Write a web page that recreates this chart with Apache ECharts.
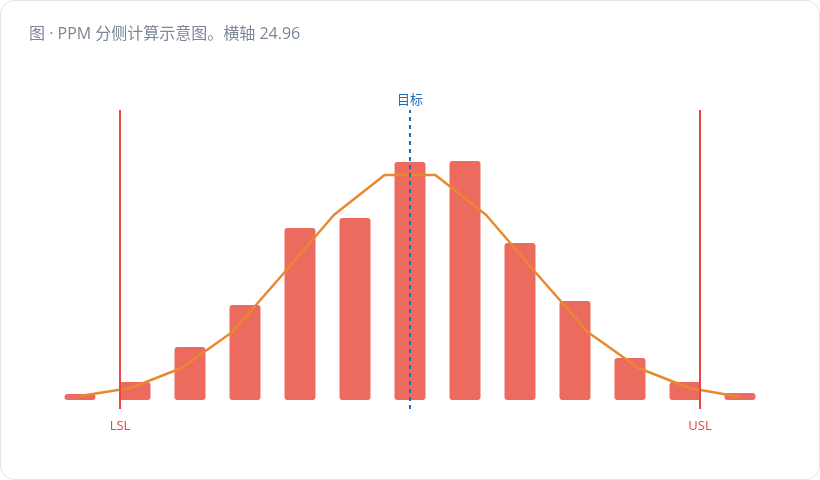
<!DOCTYPE html>
<html>
<head>
<meta charset="utf-8">
<script src="https://cdn.jsdelivr.net/npm/echarts@6/dist/echarts.min.js"></script>
<style>
  html, body { margin: 0; padding: 0; background: #ffffff; }
  #card { position: absolute; left: 0; top: 0; width: 818px; height: 478px; border: 1px solid #e4e7eb; border-radius: 14px; background: #fff; overflow: hidden; }
  #chart { width: 818px; height: 478px; }
</style>
</head>
<body>
<div id="card"><div id="chart"></div></div>
<script>
// bins (index units along the measurement axis)
const binCenters = [0, 1, 2, 3, 4, 5, 6, 7, 8, 9, 10, 11, 12];
const binCounts  = [6, 18, 53, 95, 172, 182, 238, 239, 157, 99, 42, 18, 7];
// fitted normal curve points
const curveX = [0, 0.923, 1.846, 2.769, 3.692, 4.615, 5.538, 6.462, 7.385, 8.308, 9.231, 10.154, 11.077, 12];
const curveY = [4, 12, 32, 68, 126, 185, 225, 225, 185, 126, 68, 32, 12, 3];
// specification limits and target
const LSL = 0.727;
const USL = 11.273;
const TARGET = 6;
const titleText = '图 · PPM 分侧计算示意图。横轴 24.96';

const chart = echarts.init(document.getElementById('chart'));
const font = '"Open Sans", "Noto Sans CJK SC", sans-serif';
const yLow = -9, yHigh = 290;

chart.setOption({
  animation: false,
  title: {
    text: titleText, left: 23, top: 20,
    textStyle: { fontFamily: font, fontSize: 16, fontWeight: 'normal', color: '#7b8696' }
  },
  grid: { left: 51.5, right: 51.5, top: 109, bottom: 70 },
  xAxis: { type: 'value', min: -0.5, max: 12.5, show: false },
  yAxis: { type: 'value', min: yLow, max: yHigh, show: false },
  series: [
    {
      type: 'line', data: [], z: 1,
      markLine: {
        silent: true, symbol: 'none',
        data: [
          [{ coord: [LSL, yHigh] }, { coord: [LSL, yLow], lineStyle: { color: '#e5483c', width: 2, type: 'solid' },
             label: { show: true, formatter: 'LSL', position: 'end', distance: 11, color: '#e0483c', fontSize: 13, fontFamily: font } }],
          [{ coord: [USL, yHigh] }, { coord: [USL, yLow], lineStyle: { color: '#e5483c', width: 2, type: 'solid' },
             label: { show: true, formatter: 'USL', position: 'end', distance: 11, color: '#e0483c', fontSize: 13, fontFamily: font } }],
          [{ coord: [TARGET, yLow] }, { coord: [TARGET, yHigh], lineStyle: { color: '#1f6fb8', width: 2, type: [4, 4] },
             label: { show: true, formatter: '目标', position: 'end', distance: 3, color: '#1f6fb8', fontSize: 13, fontFamily: font } }]
        ]
      }
    },
    {
      type: 'bar', z: 2,
      data: binCenters.map((x, i) => [x, binCounts[i]]),
      barWidth: 31,
      itemStyle: { color: '#e95142', opacity: 0.85, borderRadius: 3 }
    },
    {
      type: 'line', z: 3,
      data: curveX.map((x, i) => [x, curveY[i]]),
      showSymbol: false, symbol: 'none',
      lineStyle: { color: '#e8892f', width: 2.5 }
    }
  ]
});
</script>
</body>
</html>
